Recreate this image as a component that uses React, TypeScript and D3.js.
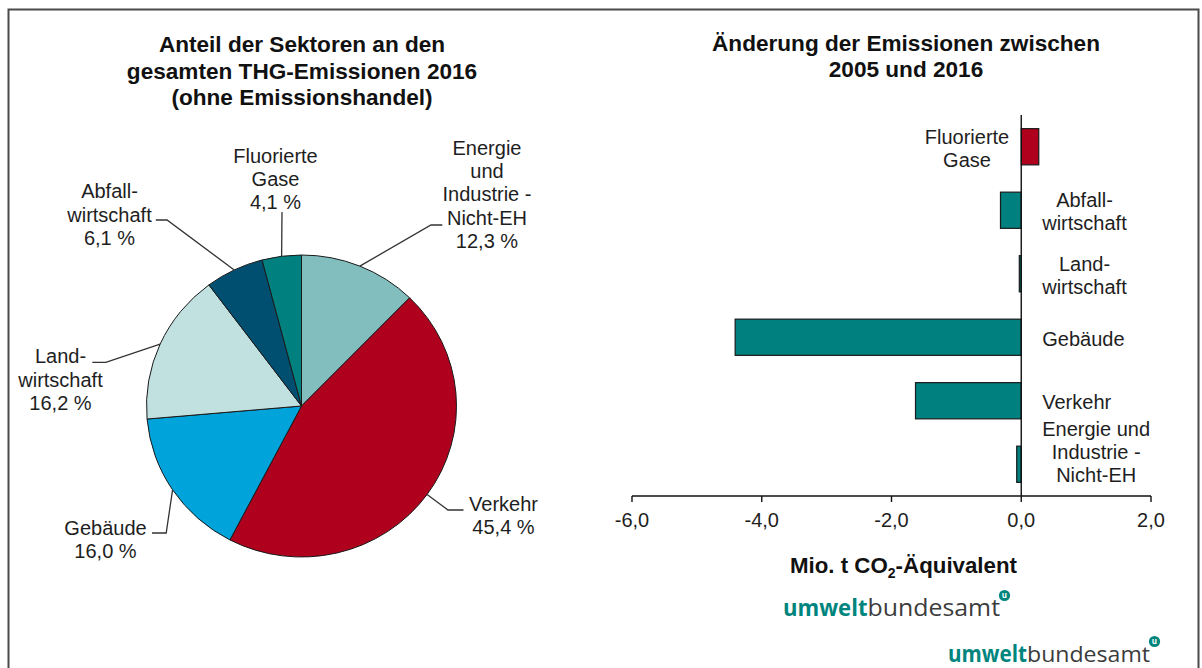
import React from "react";
import * as d3 from "d3";

// Kreisdiagramm: Anteil der Sektoren 2016 (ohne Emissionshandel), im Uhrzeigersinn ab 12 Uhr
const pieSectors = [
  "Energie und Industrie - Nicht-EH",
  "Verkehr",
  "Gebäude",
  "Landwirtschaft",
  "Abfallwirtschaft",
  "Fluorierte Gase",
];
const pieShares = [12.3, 45.4, 16.0, 16.2, 6.1, 4.1];
const pieLabelLines = [
  ["Energie", "und", "Industrie -", "Nicht-EH"],
  ["Verkehr"],
  ["Gebäude"],
  ["Land-", "wirtschaft"],
  ["Abfall-", "wirtschaft"],
  ["Fluorierte", "Gase"],
];

// Balkendiagramm: Änderung 2005 -> 2016 in Mio. t CO2-Äq.
const barSectors = [
  "Fluorierte Gase",
  "Abfallwirtschaft",
  "Landwirtschaft",
  "Gebäude",
  "Verkehr",
  "Energie und Industrie - Nicht-EH",
];
const barChanges = [0.27, -0.32, -0.03, -4.41, -1.63, -0.07];
const barLabelLines = [
  ["Fluorierte", "Gase"],
  ["Abfall-", "wirtschaft"],
  ["Land-", "wirtschaft"],
  ["Gebäude"],
  ["Verkehr"],
  ["Energie und", "Industrie -", "Nicht-EH"],
];
const xTicks = [-6, -4, -2, 0, 2];

const pieColors = ["#83bebe", "#af001e", "#00a4db", "#c1e1e1", "#004f71", "#00807f"];
const FONT = "'Liberation Sans', Arial, sans-serif";
const TEXT = "#1e1e1e";
const TEAL = "#00807f";
const RED = "#af001e";

// Beschriftungs-Layout relativ zum Kreismittelpunkt
const pieLabelLayout = [
  { tx: 185.5, ty: -251, ex: 129.5, ey: -181, hx: 140.8 },
  { tx: 202, ty: 105, ex: 146.5, ey: 104, hx: 162 },
  { tx: -196, ty: 129, ex: -135.3, ey: 127, hx: -149.5 },
  { tx: -241, ty: -42.7, ex: -195.7, ey: -43.7, hx: -209.2 },
  { tx: -192, ty: -207.7, ex: -134.5, ey: -186, hx: -145.7 },
  { tx: -26, ty: -243.3, ex: -19.5, ey: -194, hx: -19.5 },
];

const de = d3.formatLocale({
  decimal: ",",
  thousands: ".",
  grouping: [3],
  currency: ["", " €"],
  minus: "-",
});
const fmt1 = de.format(".1f");

const ctx = document.createElement("canvas").getContext("2d");
function textWidth(s: string, size = 20) {
  if (!ctx) return s.length * size * 0.5;
  ctx.font = `${size}px ${FONT}`;
  return ctx.measureText(s).width;
}

function PieChart() {
  const cx = 301.5;
  const cy = 406;
  const ry = 151;
  const rx = 155;
  const lh = 23.2;

  const arcs = d3
    .pie<number>()
    .sort(null)
    .value((d) => d)(pieShares);
  const arc = d3.arc<d3.PieArcDatum<number>>().innerRadius(0).outerRadius(ry);

  return (
    <g>
      <g transform={`translate(${cx},${cy}) scale(${rx / ry},1)`}>
        {arcs.map((a, i) => (
          <path
            key={pieSectors[i]}
            d={arc(a) || ""}
            fill={pieColors[i]}
            stroke="#1a1a1a"
            strokeWidth={1}
            vectorEffect="non-scaling-stroke"
          />
        ))}
      </g>
      {arcs.map((a, i) => {
        const L = pieLabelLayout[i];
        const mid = (a.startAngle + a.endAngle) / 2;
        const sx = cx + rx * Math.sin(mid);
        const sy = cy - ry * Math.cos(mid);
        const lines = [...pieLabelLines[i], `${fmt1(pieShares[i])} %`];
        return (
          <g key={pieSectors[i]}>
            <polyline
              points={`${sx},${sy} ${cx + L.ex},${cy + L.ey} ${cx + L.hx},${cy + L.ey}`}
              fill="none"
              stroke="#333"
              strokeWidth={1.3}
            />
            <text
              x={cx + L.tx}
              y={cy + L.ty}
              textAnchor="middle"
              fontFamily={FONT}
              fontSize={20}
              fill={TEXT}
            >
              {lines.map((t, j) => (
                <tspan key={j} x={cx + L.tx} y={cy + L.ty + j * lh}>
                  {t}
                </tspan>
              ))}
            </text>
          </g>
        );
      })}
    </g>
  );
}

function BarChart() {
  const axisY = 496;
  const top = 115;
  const lh = 23;
  const x = d3.scaleLinear().domain([-6, 2]).range([632, 1151]);
  const y = d3
    .scaleBand<string>()
    .domain(barSectors)
    .range([top, axisY])
    .paddingInner(0.43)
    .paddingOuter(0.215);
  const x0 = x(0);

  return (
    <g fontFamily={FONT}>
      {barSectors.map((s, i) => {
        const v = barChanges[i];
        const bx = Math.min(x(v), x0);
        const bw = Math.abs(x(v) - x0);
        const by = y(s) ?? 0;
        return (
          <rect
            key={s}
            x={bx}
            y={by}
            width={bw}
            height={y.bandwidth()}
            fill={v >= 0 ? RED : TEAL}
            stroke="#1a1a1a"
            strokeWidth={1.2}
          />
        );
      })}
      {/* Nulllinie */}
      <line x1={x0} x2={x0} y1={top} y2={axisY} stroke="#111" strokeWidth={1.4} />
      {/* x-Achse */}
      <line x1={x(-6)} x2={x(2)} y1={axisY} y2={axisY} stroke="#111" strokeWidth={1.4} />
      {xTicks.map((t) => (
        <g key={t}>
          <line x1={x(t)} x2={x(t)} y1={axisY} y2={axisY + 6} stroke="#111" strokeWidth={1.4} />
          <text x={x(t)} y={527} textAnchor="middle" fontSize={20} fill={TEXT}>
            {fmt1(t)}
          </text>
        </g>
      ))}
      {barSectors.map((s, i) => {
        const v = barChanges[i];
        const lines = barLabelLines[i];
        const wmax = Math.max(...lines.map((l) => textWidth(l)));
        const lx = v >= 0 ? x0 - 12 - wmax / 2 : x0 + 21 + wmax / 2;
        const c = (y(s) ?? 0) + y.bandwidth() / 2;
        let first = c - ((lines.length - 1) * lh) / 2 + 8.5;
        const last = first + (lines.length - 1) * lh;
        if (last > axisY - 14) first -= last - (axisY - 14);
        return (
          <text key={s} textAnchor="middle" fontSize={20} fill={TEXT}>
            {lines.map((t, j) => (
              <tspan key={j} x={lx} y={first + j * lh}>
                {t}
              </tspan>
            ))}
          </text>
        );
      })}
      <text x={903.5} y={572.7} textAnchor="middle" fontSize={22.3} fontWeight="bold" fill="#111">
        Mio. t CO
        <tspan fontSize={14} dy={5}>
          2
        </tspan>
        <tspan dy={-5}>-Äquivalent</tspan>
      </text>
    </g>
  );
}

function Logo({ x, y, w1, w2, size }: { x: number; y: number; w1: number; w2: number; size: number }) {
  const ux = x + w1 + w2 + 4.5;
  const uy = y - 20.5;
  return (
    <g fontFamily="'Open Sans', sans-serif">
      <text x={x} y={y} fontSize={size} fontWeight="bold" fill="#00857e" textLength={w1} lengthAdjust="spacingAndGlyphs">
        umwelt
      </text>
      <text x={x + w1} y={y} fontSize={size} fill="#3c3c3c" textLength={w2} lengthAdjust="spacingAndGlyphs">
        bundesamt
      </text>
      <circle cx={ux} cy={uy} r={5.6} fill="#00857e" />
      <text x={ux} y={uy + 2.6} fontSize={8} fontWeight="bold" fill="#fff" textAnchor="middle">
        u
      </text>
    </g>
  );
}

export default function App() {
  return (
    <svg
      width={1202}
      height={668}
      style={{ position: "absolute", left: 0, top: 0, background: "#fff" }}
    >
      <rect x={0} y={0} width={1202} height={668} fill="#fff" />
      <rect x={8.5} y={9.5} width={1190} height={720} fill="none" stroke="#4a4a4a" strokeWidth={2} />

      <g fontFamily={FONT} fontSize={22.6} fontWeight="bold" fill="#111" textAnchor="middle">
        <text x={302} y={52}>Anteil der Sektoren an den</text>
        <text x={302} y={78.5}>gesamten THG-Emissionen 2016</text>
        <text x={302} y={104.5}>(ohne Emissionshandel)</text>
        <text x={906} y={51}>Änderung der Emissionen zwischen</text>
        <text x={906} y={77}>2005 und 2016</text>
      </g>

      <PieChart />
      <BarChart />

      <Logo x={783} y={616} w1={84.5} w2={132.5} size={24} />
      <Logo x={948} y={662} w1={79} w2={123} size={22.5} />
    </svg>
  );
}
